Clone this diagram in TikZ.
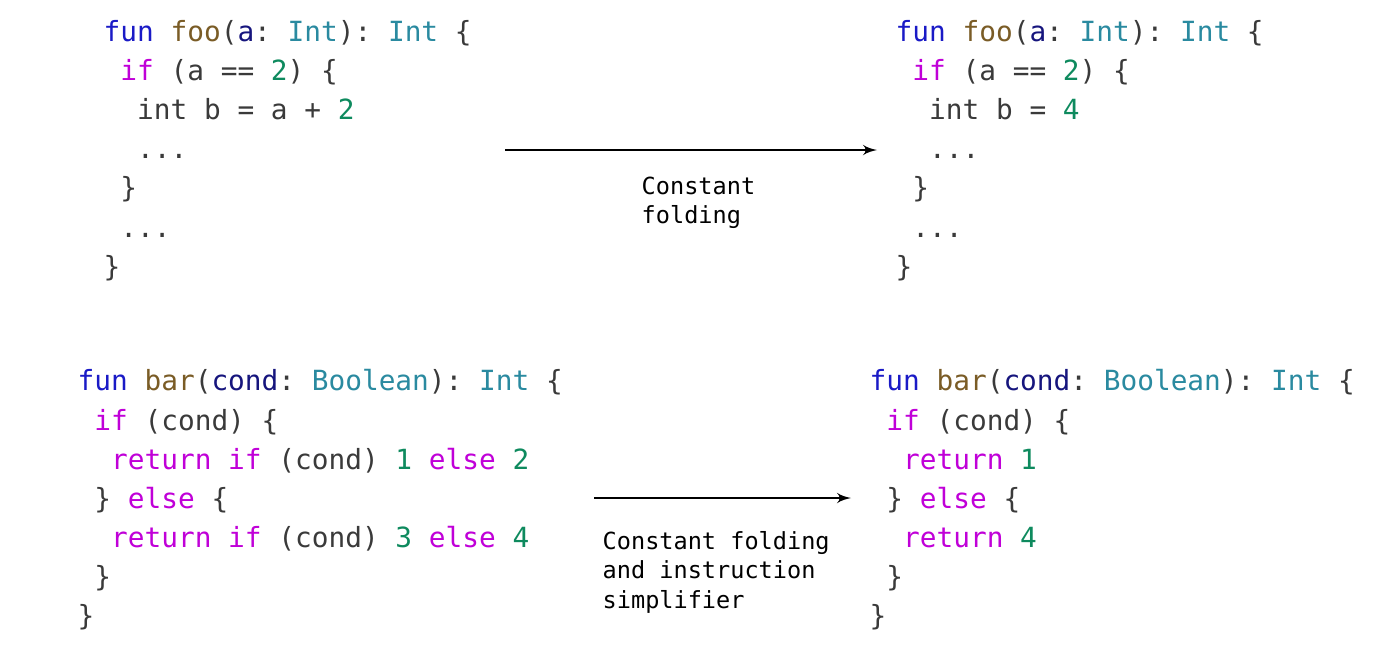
\documentclass[tikz,border=0pt]{standalone}
\usepackage{fontspec}
\setmonofont{DejaVu Sans Mono}
\usetikzlibrary{arrows, positioning}
\definecolor{func}{HTML}{1A1AC6}
\definecolor{namec}{HTML}{7A5C26}
\definecolor{argc}{HTML}{16157D}
\definecolor{typec}{HTML}{2A8AA0}
\definecolor{kwc}{HTML}{C000D8}
\definecolor{numc}{HTML}{0E8A5E}
\definecolor{txtc}{HTML}{3A3A3A}
\newcommand\kfun[1]{\textcolor{func}{#1}}
\newcommand\kname[1]{\textcolor{namec}{#1}}
\newcommand\karg[1]{\textcolor{argc}{#1}}
\newcommand\ktype[1]{\textcolor{typec}{#1}}
\newcommand\kword[1]{\textcolor{kwc}{#1}}
\newcommand\knum[1]{\textcolor{numc}{#1}}
\newcommand\ind[1]{\hspace*{#1\fontcharwd\font`x}}
\tikzstyle{code} = [anchor=north west, inner sep=0pt, align=left, text=txtc,
  font=\ttfamily\fontsize{7.9}{11.1}\selectfont]
\tikzstyle{note} = [anchor=north west, inner sep=0pt, align=left, text=black,
  font=\ttfamily\fontsize{6.7}{8.3}\selectfont]
\begin{document}
\begin{tikzpicture}[x=0.01cm, y=-0.01cm, >=latex']
    \useasboundingbox (0,0) rectangle (1400,650);
    % the four code blocks
    \node [code] (fooin) at (103,20) {\kfun{fun} \kname{foo}(\karg{a}: \ktype{Int}): \ktype{Int} \{\\
      \ind1\kword{if} (a == \knum{2}) \{\\
      \ind2int b = a + \knum{2}\\
      \ind2...\\
      \ind1\}\\
      \ind1...\\
      \}};
    \node [code] (fooout) at (895,20) {\kfun{fun} \kname{foo}(\karg{a}: \ktype{Int}): \ktype{Int} \{\\
      \ind1\kword{if} (a == \knum{2}) \{\\
      \ind2int b = \knum{4}\\
      \ind2...\\
      \ind1\}\\
      \ind1...\\
      \}};
    \node [code] (barin) at (77,369) {\kfun{fun} \kname{bar}(\karg{cond}: \ktype{Boolean}): \ktype{Int} \{\\
      \ind1\kword{if} (cond) \{\\
      \ind2\kword{return if} (cond) \knum{1} \kword{else} \knum{2}\\
      \ind1\} \kword{else} \{\\
      \ind2\kword{return if} (cond) \knum{3} \kword{else} \knum{4}\\
      \ind1\}\\
      \}};
    \node [code] (barout) at (869,369) {\kfun{fun} \kname{bar}(\karg{cond}: \ktype{Boolean}): \ktype{Int} \{\\
      \ind1\kword{if} (cond) \{\\
      \ind2\kword{return} \knum{1}\\
      \ind1\} \kword{else} \{\\
      \ind2\kword{return} \knum{4}\\
      \ind1\}\\
      \}};

    % the passes
    \coordinate (fold1) at (505,150);
    \coordinate (fold2) at (877,150);
    \coordinate (simp1) at (594,498);
    \coordinate (simp2) at (851,498);
    \draw[->] (fold1) -- (fold2);
    \draw[->] (simp1) -- (simp2);
    \node [note] (foldlabel) at (641,176) {Constant\\folding};
    \node [note] (simplabel) at (602,531) {Constant folding\\and instruction\\simplifier};
\end{tikzpicture}
\end{document}
